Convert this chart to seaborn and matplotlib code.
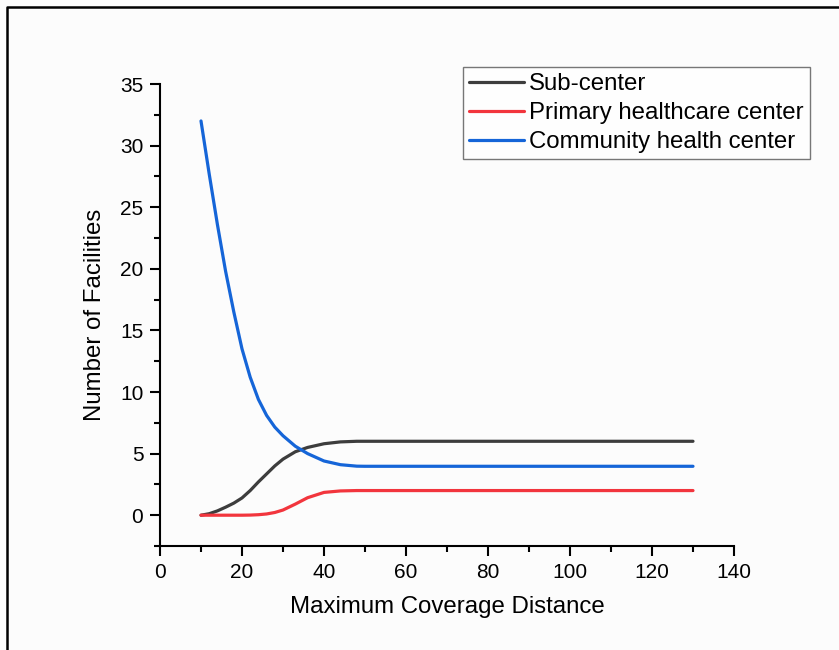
import numpy as np
import pandas as pd
import matplotlib
matplotlib.use("Agg")
import matplotlib.pyplot as plt
from matplotlib.lines import Line2D
from matplotlib.ticker import MultipleLocator
import seaborn as sns

# ---- data ----
dist = [10, 12, 14, 16, 18, 20, 22, 24, 26, 28, 30, 33, 36, 40, 44, 48, 50, 60, 70, 80, 90, 100, 110, 120, 130]
sub_center = [0, 0.12, 0.35, 0.65, 0.98, 1.4, 2.0, 2.7, 3.35, 4.0, 4.55, 5.15, 5.5, 5.8, 5.95, 6, 6, 6, 6, 6, 6, 6, 6, 6, 6]
primary = [0, 0, 0, 0, 0, 0, 0.01, 0.04, 0.1, 0.22, 0.42, 0.9, 1.42, 1.85, 1.97, 2, 2, 2, 2, 2, 2, 2, 2, 2, 2]
community = [32, 27.7, 23.6, 19.8, 16.5, 13.5, 11.2, 9.4, 8.1, 7.15, 6.45, 5.6, 5.0, 4.4, 4.1, 3.98, 3.97, 3.97, 3.97, 3.97, 3.97, 3.97, 3.97, 3.97, 3.97]
series_names = ["Sub-center", "Primary healthcare center", "Community health center"]
colors = ["#3d3d3d", "#f2353d", "#1565d8"]

df = pd.concat([
    pd.DataFrame({"dist": dist, "n": vals, "type": name})
    for name, vals in zip(series_names, [sub_center, primary, community])
])

sns.set_theme(style="ticks")
plt.rcParams["font.family"] = ["Liberation Sans", "DejaVu Sans"]
plt.rcParams["text.color"] = "black"
plt.rcParams["axes.labelcolor"] = "black"

fig = plt.figure(figsize=(8.39, 6.5), dpi=100, facecolor="#fcfcfc")
ax = fig.add_axes([160/839, 1-546/650, (734-160)/839, (546-84)/650])
ax.set_facecolor("none")

sns.lineplot(data=df, x="dist", y="n", hue="type", hue_order=series_names,
             palette=colors, linewidth=2.3, ax=ax, legend=False)

ax.set_xlim(0, 140)
ax.set_ylim(-2.5, 35)
ax.xaxis.set_major_locator(MultipleLocator(20))
ax.xaxis.set_minor_locator(MultipleLocator(10))
ax.yaxis.set_major_locator(MultipleLocator(5))
ax.yaxis.set_minor_locator(MultipleLocator(2.5))
ax.tick_params(axis="both", which="major", direction="out", length=7, width=1.5,
               labelsize=15, colors="black", labelcolor="black", pad=5)
ax.tick_params(axis="both", which="minor", direction="out", length=4, width=1.5, colors="black")
for s in ["top", "right"]:
    ax.spines[s].set_visible(False)
for s in ["left", "bottom"]:
    ax.spines[s].set_linewidth(1.5)
    ax.spines[s].set_color("black")

ax.set_xlabel("Maximum Coverage Distance", fontsize=17.3, labelpad=10, color="black")
ax.set_ylabel("Number of Facilities", fontsize=17.3, labelpad=10, color="black")

handles = [Line2D([], [], color=c, linewidth=2.3) for c in colors]
leg = ax.legend(handles, series_names, loc="upper left",
                bbox_to_anchor=(463/839, 1-67/650), bbox_transform=fig.transFigure,
                borderaxespad=0, fontsize=17.3, frameon=True, fancybox=False,
                handlelength=2.3, handletextpad=0.2, labelspacing=0.3,
                borderpad=0.25)
leg.get_frame().set_edgecolor("#555555")
leg.get_frame().set_linewidth(1.0)
leg.get_frame().set_facecolor("white")
for t in leg.get_texts():
    t.set_color("black")

# figure frame (left and top edges)
fig.add_artist(Line2D([7/839, 7/839, 1.0], [0.0, 1-7/650, 1-7/650],
                      transform=fig.transFigure, color="black", linewidth=1.8))

fig.savefig("out.png", dpi=100, facecolor=fig.get_facecolor())
